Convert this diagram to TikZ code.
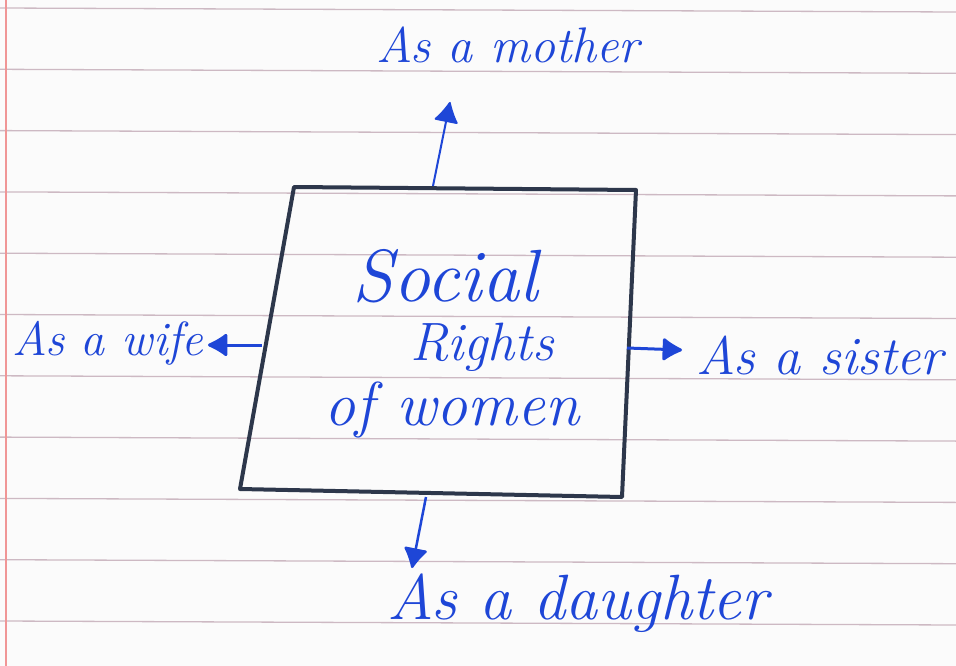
\documentclass[tikz,border=0pt]{standalone}
\usepackage{fontspec}
\usetikzlibrary{arrows.meta}
\definecolor{ink}{RGB}{30,70,215}
\definecolor{pencil}{RGB}{45,55,75}
\definecolor{rule}{RGB}{205,185,195}
\definecolor{margin}{RGB}{240,150,150}
\tikzset{
  label/.style={text=ink, font=\itshape, inner sep=0pt},
  inkarrow/.style={draw=ink, line width=3pt, -{Latex[round,length=22pt,width=26pt]}},
  boxline/.style={draw=pencil, line width=4pt, line join=round}
}
\begin{document}
\begin{tikzpicture}[x=1pt,y=-1pt]
\useasboundingbox (0,0) rectangle (956,666);
\fill[white!97!gray] (0,0) rectangle (956,666);
% ruled paper
\foreach \k in {0,...,10}{
  \draw[rule, line width=1.3pt] (0,{8+61.3*\k}) -- (956,{8+61.3*\k+4});
}
\draw[margin, line width=2pt] (6,0) -- (6,666);
% box
\coordinate (tl) at (294,187);
\coordinate (tr) at (636,190);
\coordinate (br) at (622,497);
\coordinate (bl) at (240,489);
\draw[boxline] (tl) -- (tr) -- (br) -- (bl) -- cycle;
% texts inside
\node[label, font=\itshape\fontsize{74}{80}\selectfont] (social) at (445,276) {Social};
\node[label, font=\itshape\fontsize{54}{60}\selectfont] (rights) at (482,347) {Rights};
\node[label, font=\itshape\fontsize{62}{70}\selectfont] (women) at (452,410) {of women};
% outer labels
\node[label, font=\itshape\fontsize{50}{58}\selectfont] (mother) at (508,45) {As a mother};
\node[label, font=\itshape\fontsize{48}{56}\selectfont] (wife) at (108,343) {As a wife};
\node[label, font=\itshape\fontsize{54}{62}\selectfont] (sister) at (820,355) {As a sister};
\node[label, font=\itshape\fontsize{64}{72}\selectfont] (daughter) at (578,603) {As a daughter};
% arrow endpoints
\coordinate (mtop0) at (433,186);
\coordinate (mtop1) at (450,102);
\coordinate (wl0) at (262,345);
\coordinate (wl1) at (208,345);
\coordinate (sr0) at (627,348);
\coordinate (sr1) at (682,350);
\coordinate (db0) at (426,497);
\coordinate (db1) at (412,568);
\draw[inkarrow, line width=2pt] (mtop0) -- (mtop1);
\draw[inkarrow] (wl0) -- (wl1);
\draw[inkarrow] (sr0) -- (sr1);
\draw[inkarrow, line width=2.5pt] (db0) -- (db1);
\end{tikzpicture}
\end{document}
